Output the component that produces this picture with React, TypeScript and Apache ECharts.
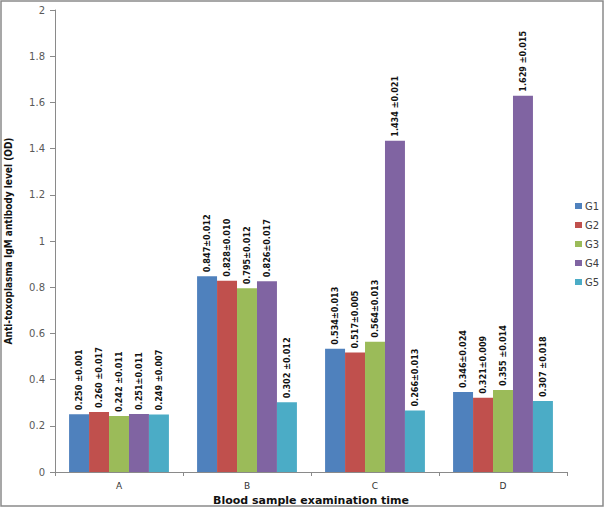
import React, { useEffect, useRef } from "react";
import * as echarts from "echarts";

const categories = ["A", "B", "C", "D"];
const seriesNames = ["G1", "G2", "G3", "G4", "G5"];
const g1 = [0.25, 0.847, 0.534, 0.346];
const g2 = [0.26, 0.828, 0.517, 0.321];
const g3 = [0.242, 0.795, 0.564, 0.355];
const g4 = [0.251, 0.826, 1.434, 1.629];
const g5 = [0.249, 0.302, 0.266, 0.307];
const g1Labels = ["0.250 ±0.001", "0.847±0.012", "0.534±0.013", "0.346±0.024"];
const g2Labels = ["0.260 ±0.017", "0.828±0.010", "0.517±0.005", "0.321±0.009"];
const g3Labels = ["0.242 ±0.011", "0.795±0.012", "0.564±0.013", "0.355 ±0.014"];
const g4Labels = ["0.251±0.011", "0.826±0.017", "1.434 ±0.021", "1.629 ±0.015"];
const g5Labels = ["0.249 ±0.007", "0.302 ±0.012", "0.266±0.013", "0.307 ±0.018"];
const colors = ["#4F81BD", "#C0504D", "#9BBB59", "#8064A2", "#4BACC6"];

const values = [g1, g2, g3, g4, g5];
const labels = [g1Labels, g2Labels, g3Labels, g4Labels, g5Labels];

const narrow = "'Liberation Sans Narrow', 'DejaVu Sans Condensed', 'Arial Narrow', sans-serif";

export default function App() {
  const ref = useRef<HTMLDivElement>(null);
  useEffect(() => {
    if (!ref.current) return;
    const chart = echarts.init(ref.current, undefined, { renderer: "svg" });
    chart.setOption({
      animation: false,
      backgroundColor: "#ffffff",
      color: colors,
      graphic: [
        {
          type: "rect",
          shape: { x: 1, y: 1, width: 602, height: 505 },
          style: { fill: "none", stroke: "#8a8a8a", lineWidth: 1.5 },
          silent: true,
        },
      ],
      grid: { left: 55, right: 38, top: 10, bottom: 36, containLabel: false, outerBoundsMode: "none" },
      legend: {
        orient: "vertical",
        left: 570,
        top: 196,
        itemWidth: 7,
        itemHeight: 6,
        itemGap: 9,
        icon: "rect",
        textStyle: { fontSize: 10, color: "#404040", fontFamily: "'DejaVu Sans', sans-serif", padding: [0, 0, 0, -2] },
        data: seriesNames,
      },
      xAxis: {
        type: "category",
        data: categories,
        name: "Blood sample examination time",
        nameLocation: "middle",
        nameGap: 19,
        nameTextStyle: { fontSize: 11, fontWeight: "bold", color: "#111", fontFamily: "'DejaVu Sans', sans-serif" },
        axisLine: { lineStyle: { color: "#8a8a8a" } },
        axisTick: { show: true, length: 4, lineStyle: { color: "#8a8a8a" } },
        axisLabel: { fontSize: 9, color: "#333", margin: 9, fontFamily: "'DejaVu Sans', sans-serif" },
      },
      yAxis: {
        type: "value",
        min: 0,
        max: 2,
        interval: 0.2,
        name: "Anti-toxoplasma IgM antibody level (OD)",
        nameLocation: "middle",
        nameGap: 42,
        nameRotate: 90,
        nameTextStyle: { fontSize: 10, fontWeight: "bold", color: "#111", fontFamily: narrow },
        axisLine: { show: true, lineStyle: { color: "#8a8a8a" } },
        axisTick: { show: true, length: 5, lineStyle: { color: "#8a8a8a" } },
        splitLine: { show: false },
        axisLabel: { fontSize: 10, color: "#595959", margin: 10, fontFamily: "'DejaVu Sans', sans-serif" },
      },
      series: seriesNames.map((name, i) => ({
        name,
        type: "bar",
        barGap: "0%",
        barCategoryGap: "22%",
        data: values[i],
        itemStyle: { color: colors[i] },
        label: {
          show: true,
          position: "top",
          rotate: 90,
          align: "left",
          verticalAlign: "middle",
          distance: 4,
          fontSize: 9,
          fontWeight: "bold",
          color: "#111",
          fontFamily: narrow,
          formatter: (p: any) => labels[i][p.dataIndex],
        },
      })),
    });
    return () => chart.dispose();
  }, []);
  return (
    <div
      ref={ref}
      style={{ position: "fixed", left: 0, top: 0, width: 605, height: 508 }}
    />
  );
}
